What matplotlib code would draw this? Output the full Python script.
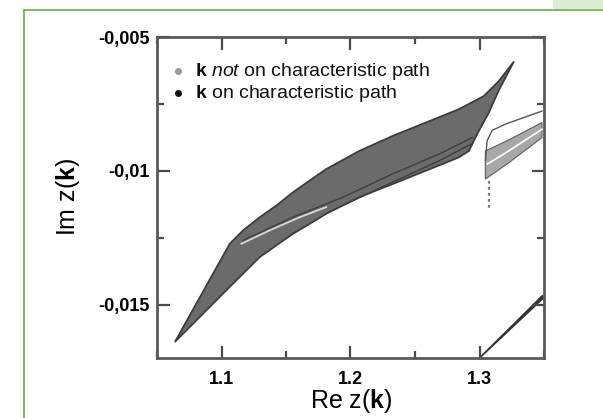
import matplotlib
matplotlib.use("Agg")
import matplotlib.pyplot as plt
from matplotlib.lines import Line2D
from matplotlib.patches import Rectangle
from matplotlib.ticker import MultipleLocator, FuncFormatter

plt.rcParams["font.family"] = ["Liberation Sans", "DejaVu Sans"]
plt.rcParams["mathtext.fontset"] = "custom"
plt.rcParams["mathtext.rm"] = "Liberation Sans"
plt.rcParams["mathtext.bf"] = "Liberation Sans:bold"
plt.rcParams["mathtext.it"] = "Liberation Sans:italic"

# ---- data (Re z, Im z) ----
# main band outline, going up the upper edge then back along the lower edge
band_re = [1.0640, 1.1064, 1.1167, 1.1296, 1.1425, 1.1553, 1.1682, 1.1811,
           1.2068, 1.2326, 1.2583, 1.2840, 1.3033, 1.3149, 1.3265,
           1.3149, 1.3072, 1.2995, 1.2956, 1.2918, 1.2840,
           1.2712, 1.2583, 1.2454, 1.2326, 1.2197, 1.2068, 1.1940, 1.1811,
           1.1682, 1.1553, 1.1425, 1.1296, 1.1064, 1.0833]
band_im = [-0.01639, -0.01273, -0.01223, -0.01174, -0.01130, -0.01081,
           -0.01037, -0.00994, -0.00926, -0.00870, -0.00820, -0.00770,
           -0.00721, -0.00665, -0.00593,
           -0.00700, -0.00783, -0.00851, -0.00888, -0.00926, -0.00950,
           -0.00975, -0.01000, -0.01025, -0.01050, -0.01074, -0.01099,
           -0.01130, -0.01161, -0.01199, -0.01236, -0.01279, -0.01323,
           -0.01434, -0.01546]

# darker curves inside the band
inner_a_re = [1.1167, 1.1553, 1.1940, 1.2326, 1.2712, 1.2943]
inner_a_im = [-0.01260, -0.01174, -0.01099, -0.01012, -0.00932, -0.00876]
inner_b_re = [1.1965, 1.2326, 1.2712, 1.2931]
inner_b_im = [-0.01124, -0.01043, -0.00957, -0.00901]
streak_re = [1.1154, 1.1373, 1.1605, 1.1811]
streak_im = [-0.01273, -0.01223, -0.01174, -0.01136]

# second branch near Re z = 1.31
outline_re = [1.3046, 1.3059, 1.3098, 1.3200, 1.3355, 1.3484]
outline_im = [-0.00960, -0.00888, -0.00849, -0.00826, -0.00799, -0.00777]
wedge_re = [1.3046, 1.3213, 1.3484, 1.3484, 1.3213, 1.3046]
wedge_im = [-0.00926, -0.00888, -0.00820, -0.00876, -0.00975, -0.01031]
wedge_mid_re = [1.3060, 1.3213, 1.3484]
wedge_mid_im = [-0.00975, -0.00930, -0.00845]
dash_re = [1.3072, 1.3072]
dash_im = [-0.01040, -0.01150]

# third branch, lower right corner
corner_re = [1.3000, 1.3490, 1.3490]
corner_im = [-0.01700, -0.01478, -0.01466]

x_lim = (1.05, 1.35)
y_lim = (-0.017, -0.005)
x_major = [1.1, 1.2, 1.3]
y_major = [-0.015, -0.01, -0.005]
legend_labels = [r"$\mathbf{k}$ $\mathit{not}$ on characteristic path",
                 r"$\mathbf{k}$ on characteristic path"]
legend_colors = ["#9a9a9a", "#111111"]

fig = plt.figure(figsize=(6.03, 4.18), dpi=100)
fig.patch.set_facecolor("white")

# slide frame
fig.add_artist(Line2D([24 / 603, 1], [1 - 10 / 418, 1 - 10 / 418],
                      transform=fig.transFigure, color="#62ad45", lw=1.2))
fig.add_artist(Line2D([24 / 603, 24 / 603], [0, 1 - 10 / 418],
                      transform=fig.transFigure, color="#62ad45", lw=1.2))
fig.add_artist(Rectangle((553 / 603, 1 - 9 / 418), 50 / 603, 9 / 418,
                         transform=fig.transFigure, facecolor="#dcebd4",
                         edgecolor="none"))

ax = fig.add_axes([157 / 603, 1 - 358 / 418, 387 / 603, 321 / 418])

ax.fill(band_re, band_im, facecolor="#6b6b6b", edgecolor="#3c3c3c", lw=1.3,
        joinstyle="round")
ax.plot(inner_a_re, inner_a_im, color="#3e3e3e", lw=1.0)
ax.plot(inner_b_re, inner_b_im, color="#3e3e3e", lw=1.0)
ax.plot(streak_re, streak_im, color="#d8d8d8", lw=1.3)

ax.plot(outline_re, outline_im, color="#555555", lw=1.0)
ax.fill(wedge_re, wedge_im, facecolor="#a8a8a8", edgecolor="#666666", lw=0.9)
ax.plot(wedge_mid_re, wedge_mid_im, color="white", lw=1.2)
ax.plot(dash_re, dash_im, color="#777777", lw=1.6, ls=(0, (1.2, 1.5)))
ax.fill(corner_re, corner_im, facecolor="#333333", edgecolor="#333333", lw=1.2)

ax.set_xlim(*x_lim)
ax.set_ylim(*y_lim)
ax.set_xticks(x_major)
ax.set_yticks(y_major)
ax.xaxis.set_minor_locator(MultipleLocator(0.05))
ax.yaxis.set_minor_locator(MultipleLocator(0.0025))
ax.yaxis.set_major_formatter(FuncFormatter(lambda v, p: f"{v:g}".replace(".", ",")))

for s in ax.spines.values():
    s.set_color("#5a5a5a")
    s.set_linewidth(2.0)
ax.tick_params(which="both", direction="in", top=True, right=True,
               color="#4a4a4a", width=1.6)
ax.tick_params(which="major", length=9)
ax.tick_params(which="minor", length=5)
ax.tick_params(axis="x", which="major", pad=9)
ax.tick_params(axis="y", which="major", pad=5)
for lab in ax.get_xticklabels() + ax.get_yticklabels():
    lab.set_fontsize(13)
    lab.set_fontweight("bold")

# legend, drawn by hand to sit where the reference has it
for i, (lab, col) in enumerate(zip(legend_labels, legend_colors)):
    yy = 0.894 - 0.07 * i
    ax.plot([0.054], [yy], marker="o", ms=4, color=col, ls="",
            transform=ax.transAxes)
    ax.text(0.098, yy, lab, transform=ax.transAxes, fontsize=14,
            va="center", ha="left", color="#111111")

fig.text(351 / 603, 1 - 401 / 418, r"Re z($\mathbf{k}$)", fontsize=18,
         ha="center", va="center")
fig.text(68 / 603, 1 - 197 / 418, r"Im z($\mathbf{k}$)", fontsize=18,
         ha="center", va="center", rotation=90)

fig.savefig("out.png", dpi=100)
